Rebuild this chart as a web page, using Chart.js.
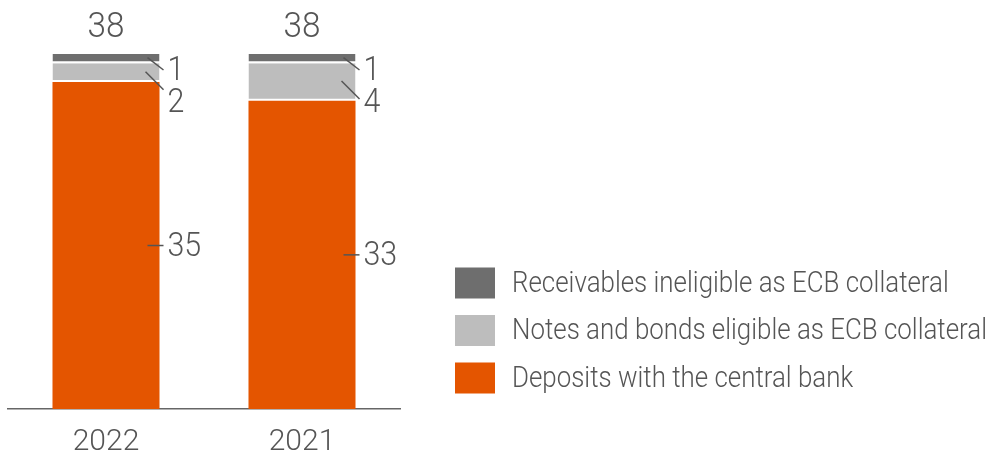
<!DOCTYPE html>
<html>
<head>
<meta charset="utf-8">
<style>
  html, body { margin: 0; padding: 0; background: #fff; }
  #wrap { width: 991px; height: 452px; position: relative; }
</style>
<script src="https://cdn.jsdelivr.net/npm/chart.js@4.4.1/dist/chart.umd.min.js"></script>
</head>
<body>
<div id="wrap"><canvas id="chart"></canvas></div>
<script>
const years = ['2022', '2021'];
const deposits = [35, 33];
const notesBonds = [2, 4];
const receivables = [1, 1];
const totals = [38, 38];

const seriesNames = [
  'Deposits with the central bank',
  'Notes and bonds eligible as ECB collateral',
  'Receivables ineligible as ECB collateral',
];
const seriesColors = ['#E45500', '#BDBDBD', '#6E6E6E'];

const textColor = '#555555';
const family = 'Roboto, "Open Sans", sans-serif';

function line(ctx, x1, y1, x2, y2) {
  ctx.beginPath();
  ctx.moveTo(x1, y1);
  ctx.lineTo(x2, y2);
  ctx.stroke();
}

// draws text squeezed horizontally to mimic the narrow typeface
function narrowText(ctx, text, x, y, sx) {
  ctx.save();
  ctx.translate(x, y);
  ctx.scale(sx, 1);
  ctx.fillText(text, 0, 0);
  ctx.restore();
}

const labelPlugin = {
  id: 'labels',
  afterDatasetsDraw(chart) {
    const ctx = chart.ctx;
    const dep = chart.getDatasetMeta(0).data;
    const nb = chart.getDatasetMeta(1).data;
    const rec = chart.getDatasetMeta(2).data;
    ctx.save();
    ctx.strokeStyle = textColor;
    ctx.lineWidth = 1.5;
    ctx.fillStyle = textColor;
    ctx.textBaseline = 'middle';
    ctx.textAlign = 'left';
    const numFont = '300 33px ' + family;

    dep.forEach((bar, i) => {
      const right = bar.x + bar.width / 2;
      const top = rec[i].y;
      ctx.font = numFont;

      // deposits: short horizontal leader
      const mid = (bar.y + bar.base) / 2;
      line(ctx, right - 12, mid, right + 4, mid);
      narrowText(ctx, String(deposits[i]), right + 8, mid + 2, 0.92);

      // receivables: diagonal leader from top segment
      const recMid = (rec[i].y + rec[i].base) / 2;
      const y1 = top + 16;
      line(ctx, right - 12, recMid - 1, right + 4, y1);
      narrowText(ctx, String(receivables[i]), right + 8, y1 + 2, 0.92);

      // notes and bonds: diagonal leader
      const nbMid = (nb[i].y + nb[i].base) / 2;
      const y2 = top + 48;
      line(ctx, right - 14, nbMid - 1, right + 4, Math.min(nbMid + 17, y2 - 2));
      narrowText(ctx, String(notesBonds[i]), right + 8, y2 + 2, 0.92);

      // total above the stack
      ctx.font = '300 35px ' + family;
      ctx.textAlign = 'center';
      narrowText(ctx, String(totals[i]), bar.x, top - 26, 0.95);
      ctx.textAlign = 'left';
    });

    // legend, top row = last dataset
    ctx.font = '300 30px ' + family;
    const rows = chart.data.datasets.slice().reverse();
    const widest = Math.max(...rows.map((ds) => ctx.measureText(ds.label).width));
    const sx = 475 / widest;
    rows.forEach((ds, r) => {
      const cy = 283 + r * 47.5;
      ctx.fillStyle = ds.backgroundColor;
      ctx.fillRect(455, cy - 15.5, 40, 31);
      ctx.fillStyle = textColor;
      narrowText(ctx, ds.label, 512, cy + 1, sx);
    });
    ctx.restore();
  },
};

new Chart(document.getElementById('chart'), {
  type: 'bar',
  data: {
    labels: years,
    datasets: [
      {
        label: seriesNames[0],
        data: deposits,
        backgroundColor: seriesColors[0],
        borderWidth: 0,
      },
      {
        label: seriesNames[1],
        data: notesBonds,
        backgroundColor: seriesColors[1],
        borderColor: '#FFFFFF',
        borderWidth: { top: 0, bottom: 2, left: 0, right: 0 },
        borderSkipped: false,
      },
      {
        label: seriesNames[2],
        data: receivables,
        backgroundColor: seriesColors[2],
        borderColor: '#FFFFFF',
        borderWidth: { top: 0, bottom: 2, left: 0, right: 0 },
        borderSkipped: false,
      },
    ],
  },
  options: {
    responsive: true,
    maintainAspectRatio: false,
    animation: false,
    layout: { padding: { top: 54, left: 8, right: 591, bottom: 0 } },
    datasets: {
      bar: { categoryPercentage: 1, barPercentage: 0.546 },
    },
    plugins: {
      legend: { display: false },
      tooltip: { enabled: false },
    },
    scales: {
      x: {
        stacked: true,
        grid: { display: false },
        border: { display: true, color: '#666666', width: 1.5 },
        ticks: {
          color: textColor,
          padding: 7,
          font: { family: family, size: 30, weight: '300' },
        },
        afterFit(scale) {
          scale.height = 43;
        },
      },
      y: {
        stacked: true,
        display: false,
        min: 0,
        max: 38,
      },
    },
  },
  plugins: [labelPlugin],
});
</script>
</body>
</html>
